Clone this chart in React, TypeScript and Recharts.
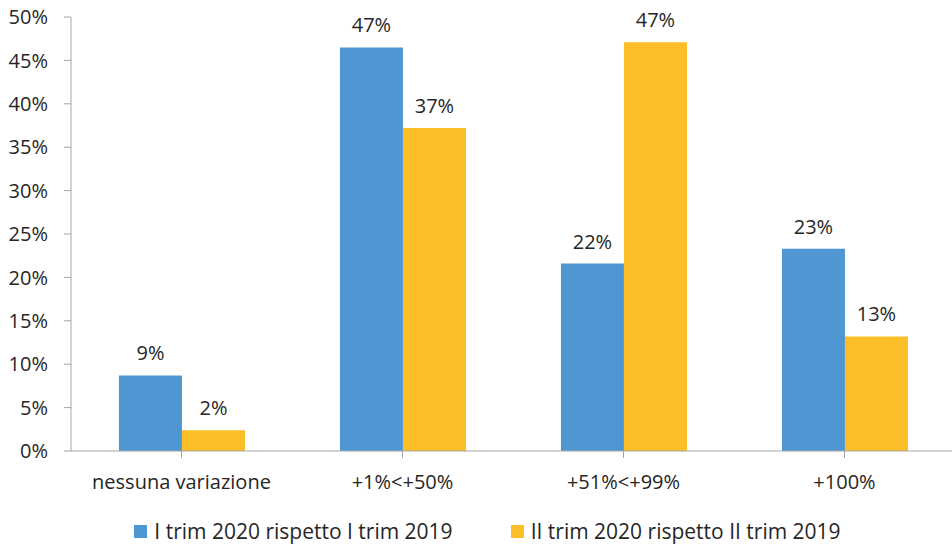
import { Bar, BarChart, LabelList, Legend, XAxis, YAxis } from "recharts";

const categories = ["nessuna variazione", "+1%<+50%", "+51%<+99%", "+100%"];
const trim1 = [8.7, 46.5, 21.6, 23.3];
const trim2 = [2.4, 37.2, 47.1, 13.2];
const yTicks = [0, 5, 10, 15, 20, 25, 30, 35, 40, 45, 50];
const seriesNames = ["I trim 2020 rispetto I trim 2019", "II trim 2020 rispetto II trim 2019"];

const BLUE = "#4F97D3";
const ORANGE = "#FCBE27";
const AXIS = "#A6A6A6";
const TEXT = "#262626";
const FONT = "'Open Sans', sans-serif";

const data = categories.map((name, i) => ({ name, a: trim1[i], b: trim2[i] }));

function LegendContent() {
  const colors = [BLUE, ORANGE];
  return (
    <div
      style={{
        display: "flex",
        justifyContent: "center",
        fontFamily: FONT,
        fontSize: 21,
        lineHeight: "28px",
        height: 28,
        color: TEXT,
        paddingLeft: 20,
      }}
    >
      {seriesNames.map((name, i) => (
        <div key={name} style={{ display: "flex", alignItems: "center", marginRight: i === 0 ? 58 : 0 }}>
          <span style={{ width: 13, height: 13, background: colors[i], marginRight: 7, display: "inline-block" }} />
          <span>{name}</span>
        </div>
      ))}
    </div>
  );
}

export default function App() {
  return (
    <div style={{ position: "absolute", left: 0, top: 0, width: 952, height: 545, background: "#fff", overflow: "hidden" }}>
      <BarChart
        width={955}
        height={545}
        data={data}
        margin={{ top: 17, right: 0, left: 0, bottom: 16 }}
        barCategoryGap="21.7%"
        barGap={0}
      >
        <XAxis
          dataKey="name"
          height={50}
          stroke={AXIS}
          tickSize={7}
          tickMargin={17}
          interval={0}
          tick={{ fill: TEXT, fontSize: 20, fontFamily: FONT }}
        />
        <YAxis
          width={71}
          domain={[0, 50]}
          ticks={yTicks}
          stroke={AXIS}
          tickSize={7}
          tickMargin={16}
          tickFormatter={(v) => `${v}%`}
          tick={{ fill: TEXT, fontSize: 20, fontFamily: FONT }}
        />
        <Legend verticalAlign="bottom" content={<LegendContent />} wrapperStyle={{ bottom: 0 }} />
        {(["a", "b"] as const).map((key, i) => (
          <Bar key={key} dataKey={key} fill={i === 0 ? BLUE : ORANGE} isAnimationActive={false}>
            <LabelList
              dataKey={key}
              position="top"
              offset={15}
              formatter={(v: number) => `${Math.round(v)}%`}
              style={{ fill: TEXT, fontSize: 20, fontFamily: FONT }}
            />
          </Bar>
        ))}
      </BarChart>
    </div>
  );
}
